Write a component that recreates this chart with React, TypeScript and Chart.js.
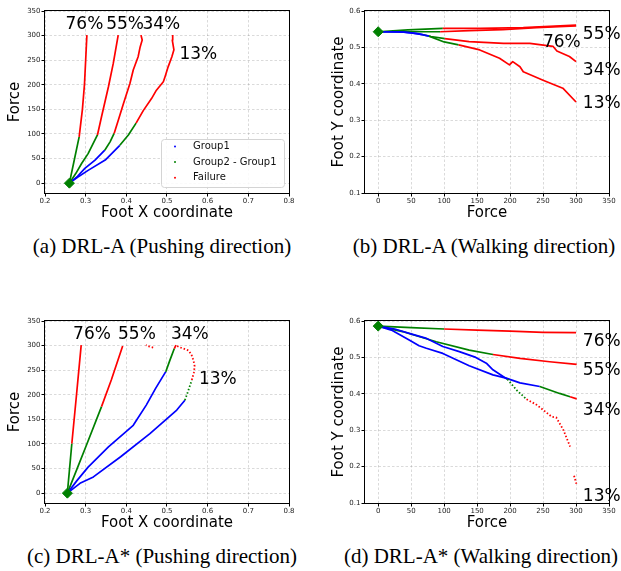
import React, { useEffect, useRef } from 'react';
import { Chart, registerables } from 'chart.js';

Chart.register(...registerables);

// ---------------- ticks ----------------
const footXTicks = [0.2, 0.3, 0.4, 0.5, 0.6, 0.7, 0.8];
const forceTicks = [0, 50, 100, 150, 200, 250, 300, 350];
const footYTicks = [0.1, 0.2, 0.3, 0.4, 0.5, 0.6];

const legendLabels = ['Group1', 'Group2 - Group1', 'Failure'];
// point groups: b = Group1, g = Group2 - Group1, r = Failure,
// h = Group2 - Group1 (scattered), s = Failure (scattered)

// ---------------- (a) DRL-A pushing ----------------
const aStart = 0.26;
const a76Force = [0, 47, 94, 150, 200, 250, 301];
const a76X = [0.26, 0.272, 0.284, 0.292, 0.297, 0.3, 0.303];
const a76Grp = 'gggrrrr';
const a55Force = [0, 20, 40, 60, 98, 135, 196, 244, 301];
const a55X = [0.26, 0.276, 0.29, 0.306, 0.329, 0.339, 0.356, 0.368, 0.38];
const a55Grp = 'gggggrrrr';
const a34Force = [0, 14, 30, 47, 67, 84, 101, 130, 162, 203, 230, 257, 277, 291, 301];
const a34X = [0.26, 0.28, 0.298, 0.323, 0.347, 0.36, 0.37, 0.381, 0.393, 0.409, 0.417, 0.429, 0.434, 0.439, 0.436];
const a34Grp = 'bbbbbggrrrrrrrr';
const a13Force = [0, 12, 26, 47, 77, 98, 122, 148, 172, 189, 206, 216, 237, 257, 271, 291, 301];
const a13X = [0.26, 0.28, 0.306, 0.348, 0.384, 0.405, 0.424, 0.442, 0.462, 0.474, 0.491, 0.495, 0.503, 0.512, 0.517, 0.513, 0.514];
const a13Grp = 'bbbbbggrrrrrrrrrr';
const aLabels: [string, number, number][] = [['76%', 322, 0.297], ['55%', 322, 0.397], ['34%', 322, 0.486], ['13%', 262, 0.577]];

// ---------------- (b) DRL-A walking ----------------
const bStart = 0.543;
const b76Force = [0, 45, 98, 155, 220, 300];
const b76Y = [0.543, 0.548, 0.552, 0.552, 0.5545, 0.561];
const b76Grp = 'gggrrr';
const b55Force = [0, 50, 94, 138, 189, 240, 300];
const b55Y = [0.543, 0.543, 0.543, 0.546, 0.549, 0.5545, 0.559];
const b55Grp = 'gggrrrr';
const b34Force = [0, 30, 50, 67, 80, 101, 138, 190, 230, 265, 271, 290, 300];
const b34Y = [0.543, 0.543, 0.54, 0.535, 0.53, 0.524, 0.516, 0.511, 0.511, 0.503, 0.49, 0.475, 0.461];
const b34Grp = 'bbbbggrrrrrrr';
const b13Force = [0, 40, 60, 77, 100, 122, 154, 184, 199, 204, 215, 220, 250, 280, 300];
const b13Y = [0.543, 0.542, 0.538, 0.531, 0.515, 0.507, 0.493, 0.47, 0.452, 0.461, 0.447, 0.433, 0.41, 0.388, 0.35];
const b13Grp = 'bbbbggrrrrrrrrr';
const bLabels: [string, number, number][] = [['55%', 339, 0.534], ['76%', 278.5, 0.514], ['34%', 339, 0.436], ['13%', 339, 0.346]];

// ---------------- (c) DRL-A* pushing ----------------
const cStart = 0.255;
const c76Force = [0, 101, 200, 301];
const c76X = [0.255, 0.266, 0.2775, 0.289];
const c76Grp = 'ggrr';
const c55Force = [0, 50, 100, 176, 230, 299];
const c55X = [0.255, 0.279, 0.303, 0.339, 0.363, 0.391];
const c55Grp = 'ggggrr';
const c34Force = [0, 25, 53, 94, 138, 179, 213, 247, 270, 294, 301];
const c34X = [0.255, 0.278, 0.306, 0.356, 0.417, 0.449, 0.472, 0.497, 0.507, 0.518, 0.522];
const c34Grp = 'bbbbbbbbggr';
const c34bForce = [296, 298, 301];
const c34bX = [0.466, 0.457, 0.448];
const c34bGrp = 'sss';
const c13Force = [0, 20, 33, 74, 121, 169, 189, 210, 230, 245, 258, 270, 282, 290, 294, 297, 300];
const c13X = [0.255, 0.286, 0.319, 0.386, 0.458, 0.524, 0.544, 0.553, 0.561, 0.566, 0.568, 0.565, 0.56, 0.553, 0.54, 0.53, 0.523];
const c13Grp = 'bbbbbbbhhssssssss';
const cLabels: [string, number, number][] = [['76%', 322, 0.3156], ['55%', 322, 0.426], ['34%', 322, 0.556], ['13%', 230, 0.625]];

// ---------------- (d) DRL-A* walking ----------------
const dStart = 0.586;
const d76Force = [0, 50, 100, 150, 200, 250, 300];
const d76Y = [0.586, 0.582, 0.578, 0.575, 0.572, 0.569, 0.568];
const d76Grp = 'gggrrrr';
const d55Force = [0, 37, 88, 138, 174, 215, 260, 301];
const d55Y = [0.586, 0.571, 0.543, 0.52, 0.508, 0.4975, 0.488, 0.481];
const d55Grp = 'gggggrrr';
const d34Force = [0, 20, 47, 62, 73, 98, 138, 174, 194, 215, 245, 275, 291, 301];
const d34Y = [0.586, 0.575, 0.548, 0.532, 0.525, 0.511, 0.477, 0.452, 0.443, 0.43, 0.42, 0.401, 0.392, 0.386];
const d34Grp = 'bbbbbbbbbbbggr';
const d13Force = [0, 25, 47, 72, 98, 123, 148, 164, 174, 190, 196, 210, 225, 240, 250, 263, 270, 281, 291, null, 297, 301];
const d13Y = [0.586, 0.578, 0.566, 0.553, 0.53, 0.516, 0.5, 0.484, 0.466, 0.447, 0.44, 0.41, 0.385, 0.37, 0.356, 0.337, 0.335, 0.3, 0.255, null, 0.175, 0.15];
const d13Grp = 'bbbbbbbbbbbhhsssssssss';
const dLabels: [string, number, number][] = [['76%', 339, 0.543], ['55%', 339, 0.465], ['34%', 339, 0.355], ['13%', 339, 0.117]];

// ---------------- helpers ----------------
const BLUE = '#0000ff';
const GREEN = '#008000';
const RED = '#ff0000';
const colorOf = (g: string) => (g === 'b' ? BLUE : g === 'g' || g === 'h' ? GREEN : RED);
const FONT = 'DejaVu Sans';

type Curve = { force: (number | null)[]; coord: (number | null)[]; grp: string };

function Panel(props: {
  left: number; top: number; width: number; height: number; walking: boolean;
  start: number; curves: Curve[]; labels: [string, number, number][]; legend?: boolean;
}) {
  const ref = useRef<HTMLCanvasElement>(null);
  useEffect(() => {
    const { walking, curves, start, labels, legend } = props;
    const pt = (f: number | null, c: number | null) => (walking ? { x: f, y: c } : { x: c, y: f });
    const datasets: any[] = [
      {
        label: 'start', data: [pt(0, start)], showLine: false, pointStyle: 'rectRot',
        pointRadius: 5, backgroundColor: GREEN, borderColor: GREEN, borderWidth: 1, order: 0,
      },
    ];
    curves.forEach((c, k) => {
      datasets.push({
        label: 'curve' + k,
        data: c.force.map((f, i) => pt(f, c.coord[i])),
        showLine: true, pointRadius: 0, borderWidth: 1.7, tension: 0, order: 1,
        borderColor: colorOf(c.grp[1]), borderJoinStyle: 'round',
        segment: {
          borderColor: (ctx: any) => colorOf(c.grp[ctx.p1DataIndex]),
          borderDash: (ctx: any) => ('sh'.includes(c.grp[ctx.p1DataIndex]) ? [1.5, 2] : undefined),
          borderWidth: (ctx: any) => ('sh'.includes(c.grp[ctx.p1DataIndex]) ? 1.8 : undefined),
        },
      });
    });

    const xTicks = walking ? forceTicks : footXTicks;
    const yTicks = walking ? footYTicks : forceTicks;
    const gridOpts = {
      color: 'rgba(120,120,120,0.35)', lineWidth: 0.8, tickColor: '#000', tickLength: 3.5,
      tickWidth: 1, tickBorderDash: [],
    };
    const tickFont = { size: 7, family: FONT };
    const titleFont = { size: 15, family: FONT };

    const overlay = {
      id: 'overlay',
      afterDatasetsDraw(chart: any) {
        const { ctx, chartArea: ca, scales } = chart;
        ctx.save();
        ctx.strokeStyle = '#000';
        ctx.lineWidth = 1;
        ctx.strokeRect(Math.round(ca.left) - 0.5, Math.round(ca.top) - 0.5, Math.round(ca.width) + 1, Math.round(ca.height) + 1);
        ctx.fillStyle = '#000';
        ctx.font = `17px "${FONT}"`;
        ctx.textAlign = 'center';
        ctx.textBaseline = 'middle';
        labels.forEach(([t, f, c]) => {
          const p = pt(f, c) as any;
          ctx.fillText(t, scales.x.getPixelForValue(p.x), scales.y.getPixelForValue(p.y));
        });
        if (legend) {
          const w = 123, h = 48;
          const x0 = ca.right - 5 - w, y0 = ca.bottom - 6 - h;
          ctx.beginPath();
          ctx.roundRect(x0 + 0.5, y0 + 0.5, w, h, 3);
          ctx.fillStyle = 'rgba(255,255,255,0.85)';
          ctx.fill();
          ctx.strokeStyle = '#d4d4d4';
          ctx.stroke();
          ctx.font = `10px "${FONT}"`;
          ctx.textAlign = 'left';
          legendLabels.forEach((lab, i) => {
            const cy = y0 + 7.5 + i * 15.6;
            ctx.fillStyle = colorOf('bgr'[i]);
            ctx.beginPath();
            ctx.arc(x0 + 14, cy, 1, 0, Math.PI * 2);
            ctx.fill();
            ctx.fillStyle = '#111';
            ctx.fillText(lab, x0 + 32, cy);
          });
        }
        ctx.restore();
      },
    };

    const chart = new Chart(ref.current!, {
      type: 'scatter',
      data: { datasets },
      options: {
        responsive: false,
        animation: false,
        devicePixelRatio: 1,
        events: [],
        layout: { padding: { top: 11, right: walking ? 12 : 21, left: 0, bottom: 0 } },
        plugins: { legend: { display: false }, tooltip: { enabled: false }, title: { display: false } },
        scales: {
          x: {
            type: 'linear',
            min: walking ? -20 : 0.2,
            max: walking ? 350 : 0.8,
            afterBuildTicks: (s: any) => { s.ticks = xTicks.map((v) => ({ value: v })); },
            afterFit: (s: any) => { s.height = 37; },
            ticks: {
              font: tickFont, color: '#222', padding: 0, maxRotation: 0, autoSkip: false,
              callback: (v: any) => (walking ? String(v) : Number(v).toFixed(1)),
            },
            grid: gridOpts,
            border: { display: false, dash: [2.5, 2] },
            title: { display: true, text: walking ? 'Force' : 'Foot X coordinate', font: titleFont, color: '#000', padding: { top: 0, bottom: 8 } },
          },
          y: {
            type: 'linear',
            min: walking ? 0.1 : -20,
            max: walking ? 0.6 : 350,
            afterBuildTicks: (s: any) => { s.ticks = yTicks.map((v) => ({ value: v })); },
            afterFit: (s: any) => { s.width = walking ? 55 : 45; },
            ticks: {
              font: tickFont, color: '#222', padding: 1, autoSkip: false,
              callback: (v: any) => (walking ? Number(v).toFixed(1) : String(v)),
            },
            grid: gridOpts,
            border: { display: false, dash: [2.5, 2] },
            title: { display: true, text: walking ? 'Foot Y coordinate' : 'Force', font: titleFont, color: '#000', padding: { top: walking ? 20 : 6, bottom: 0 } },
          },
        },
      } as any,
      plugins: [overlay],
    });
    return () => chart.destroy();
  }, []);
  return (
    <canvas
      ref={ref}
      width={props.width}
      height={props.height}
      style={{ position: 'absolute', left: props.left, top: props.top, width: props.width, height: props.height }}
    />
  );
}

function Caption({ cx, top, text }: { cx: number; top: number; text: string }) {
  return (
    <div
      style={{
        position: 'absolute', left: cx - 160, top, width: 320, textAlign: 'center',
        font: '21px "Liberation Serif"', lineHeight: '24px', whiteSpace: 'nowrap', color: '#000',
      }}
    >
      {text}
    </div>
  );
}

const mk = (force: (number | null)[], coord: (number | null)[], grp: string): Curve => ({ force, coord, grp });

export default function App() {
  return (
    <div style={{ position: 'fixed', left: 0, top: 0, width: 621, height: 571, background: '#fff', overflow: 'hidden' }}>
      <Panel left={0} top={0} width={310} height={230} walking={false} start={aStart} labels={aLabels} legend
        curves={[mk(a13Force, a13X, a13Grp), mk(a34Force, a34X, a34Grp), mk(a55Force, a55X, a55Grp), mk(a76Force, a76X, a76Grp)]} />
      <Panel left={310} top={0} width={311} height={230} walking start={bStart} labels={bLabels}
        curves={[mk(b13Force, b13Y, b13Grp), mk(b34Force, b34Y, b34Grp), mk(b55Force, b55Y, b55Grp), mk(b76Force, b76Y, b76Grp)]} />
      <Panel left={0} top={310} width={310} height={230} walking={false} start={cStart} labels={cLabels}
        curves={[mk(c13Force, c13X, c13Grp), mk(c34Force, c34X, c34Grp), mk(c34bForce, c34bX, c34bGrp), mk(c55Force, c55X, c55Grp), mk(c76Force, c76X, c76Grp)]} />
      <Panel left={310} top={310} width={311} height={230} walking start={dStart} labels={dLabels}
        curves={[mk(d13Force, d13Y, d13Grp), mk(d34Force, d34Y, d34Grp), mk(d55Force, d55Y, d55Grp), mk(d76Force, d76Y, d76Grp)]} />
      <Caption cx={162} top={234} text="(a) DRL-A (Pushing direction)" />
      <Caption cx={484} top={234} text="(b) DRL-A (Walking direction)" />
      <Caption cx={162} top={544} text="(c) DRL-A* (Pushing direction)" />
      <Caption cx={481} top={544} text="(d) DRL-A* (Walking direction)" />
    </div>
  );
}
